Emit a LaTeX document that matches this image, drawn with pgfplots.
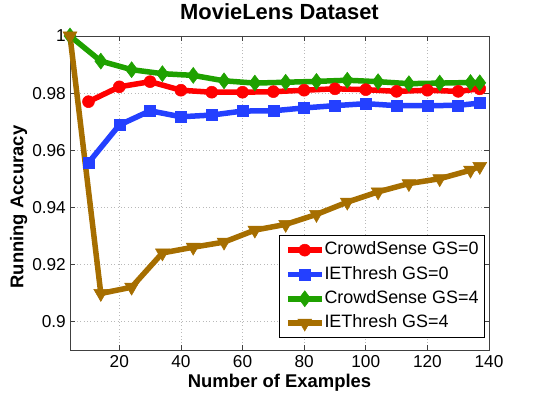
\documentclass[border=0pt]{standalone}
\usepackage{pgfplots}
\pgfplotsset{compat=1.18}
\usepackage{fontspec}
\setmainfont{Liberation Sans}
\definecolor{cred}{rgb}{1,0,0}
\definecolor{cblue}{rgb}{0.14,0.25,1}
\definecolor{cgreen}{rgb}{0.12,0.63,0.0}
\definecolor{cbrown}{rgb}{0.65,0.43,0.0}
\begin{document}
\begin{tikzpicture}
\path[use as bounding box] (0,0) rectangle (540bp,394bp);
\begin{axis}[
  at={(70bp,44bp)}, anchor=south west,
  scale only axis, width=419bp, height=314bp,
  xmin=4, xmax=140, ymin=0.89, ymax=1,
  xtick={20,40,...,140},
  ytick={0.9,0.92,0.94,0.96,0.98,1},
  /pgf/number format/assume math mode=true,
  yticklabel={\pgfmathprintnumber[fixed,precision=2]{\tick}},
  tick align=inside, major tick length=5bp,
  axis line style={black!75, line width=0.6bp},
  every tick/.style={black!75, line width=0.6bp},
  grid=major,
  major grid style={gray!55, line width=0.6bp, dash pattern=on 0.8bp off 2.6bp},
  ticklabel style={font=\fontsize{17.3}{19}\selectfont},
  yticklabel style={inner sep=0pt, anchor=east, xshift=-4bp},
  xticklabel style={inner sep=0pt, anchor=north, yshift=-5bp},
  every axis title/.style={},
  title={\textbf{MovieLens Dataset}},
  title style={font=\fontsize{22}{24}\selectfont, at={(axis description cs:0.5,1)}, anchor=base, yshift=16bp, inner sep=0pt},
  xlabel={\textbf{Number of Examples}},
  xlabel style={font=\fontsize{18.5}{20}\selectfont, at={(axis description cs:0.5,0)}, anchor=base, yshift=-37.3bp, inner sep=0pt},
  ylabel={\textbf{Running Accuracy}},
  ylabel style={font=\fontsize{18.5}{20}\selectfont, at={(axis description cs:-0.1115,0.455)}, anchor=base, rotate=0, inner sep=0pt},
  clip=false,
  legend cell align=left,
  legend image code/.code={\draw[mark repeat=2,mark phase=2] plot coordinates {(0bp,0bp)(17bp,0bp)(34bp,0bp)};},
  legend style={at={(axis description cs:0.990,0.039)}, anchor=south east,
    font=\fontsize{18}{20}\selectfont, draw=black, line width=0.6bp,
    inner xsep=6bp, inner ysep=6bp, row sep=7.5bp,
    nodes={inner sep=0pt, text height=13bp, text depth=3.8bp},
    /tikz/every even column/.append style={column sep=5bp}},
]
\addplot[cred, line width=5.5bp, mark=*, mark size=6bp, mark options={solid, line width=0.5bp, fill=cred}] coordinates {
(10,0.9770) (20,0.9822) (30,0.9840) (40,0.9810) (50,0.9803) (60,0.9803) (70,0.9805)
(80,0.9810) (90,0.9815) (100,0.9812) (110,0.9806) (120,0.9810) (130,0.9806) (137,0.9815)};
\addlegendentry{CrowdSense GS=0}
\addplot[cblue, line width=5.5bp, mark=square*, mark size=5.5bp, mark options={solid, line width=0.5bp, fill=cblue}] coordinates {
(10,0.9556) (20,0.9688) (30,0.9738) (40,0.9717) (50,0.9723) (60,0.9737) (70,0.9738)
(80,0.9748) (90,0.9756) (100,0.9763) (110,0.9756) (120,0.9756) (130,0.9757) (137,0.9765)};
\addlegendentry{IEThresh GS=0}
\addplot[cgreen, line width=5.5bp, mark=diamond*, mark size=8bp, mark options={solid, line width=0.5bp, fill=cgreen}] coordinates {
(4,1.0) (14,0.9912) (24,0.9882) (34,0.9868) (44,0.9862) (54,0.9843) (64,0.9835) (74,0.9838)
(84,0.9841) (94,0.9845) (104,0.9840) (114,0.9833) (124,0.9835) (134,0.9837) (137,0.9836)};
\addlegendentry{CrowdSense GS=4}
\addplot[cbrown, line width=5.5bp, mark=triangle*, mark size=8bp, mark options={solid, rotate=180, line width=0.5bp, fill=cbrown}] coordinates {
(4,1.0) (14,0.9098) (24,0.9120) (34,0.9240) (44,0.9260) (54,0.9278) (64,0.9320) (74,0.9340)
(84,0.9375) (94,0.9418) (104,0.9454) (114,0.9483) (124,0.9500) (134,0.9530) (137,0.9543)};
\addlegendentry{IEThresh GS=4}
\end{axis}
\end{tikzpicture}
\end{document}
